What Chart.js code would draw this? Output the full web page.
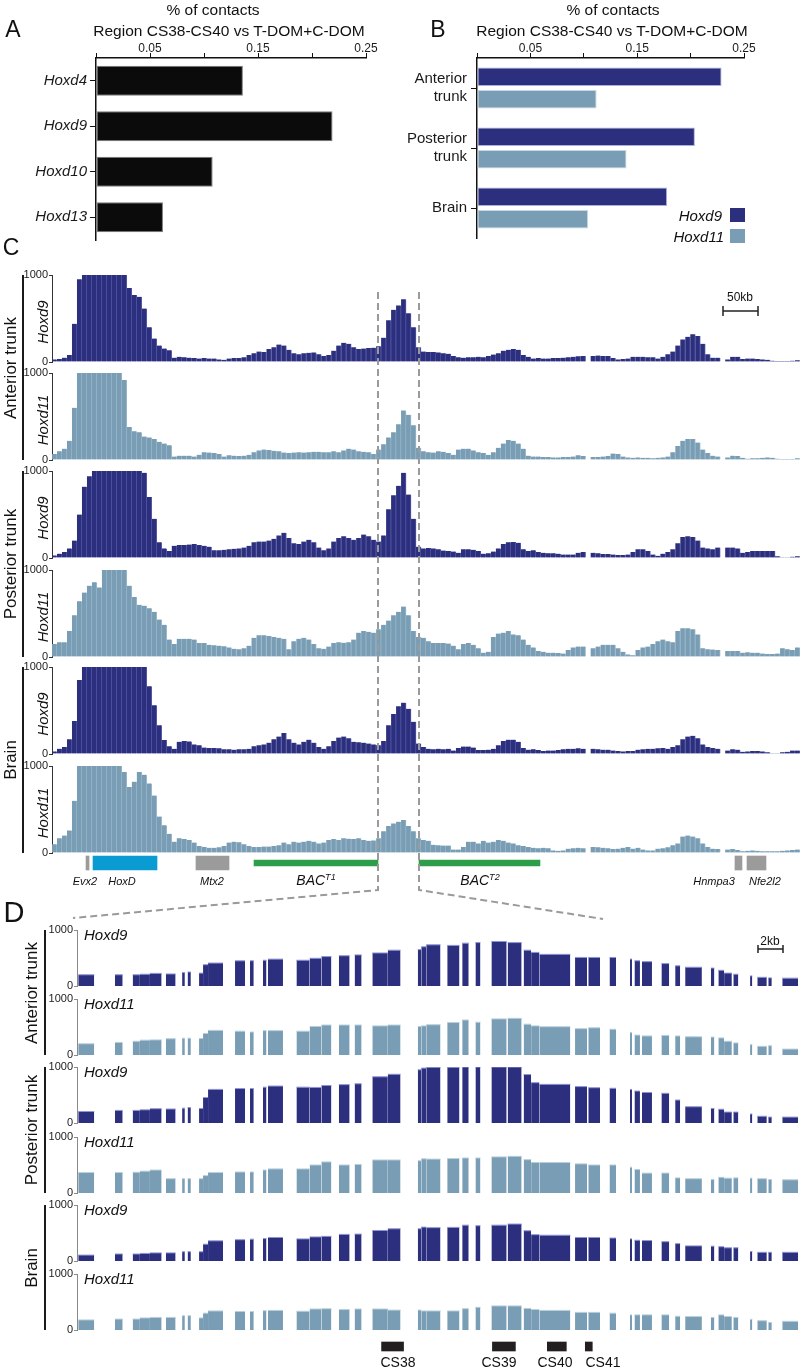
<!DOCTYPE html>
<html>
<head>
<meta charset="utf-8">
<title>Hoxd 4C contacts</title>
<script src="https://cdn.jsdelivr.net/npm/chart.js@4.4.1/dist/chart.umd.min.js"></script>
<style>
  body { margin: 0; background: #fff; }
  #fig { position: relative; width: 802px; height: 1372px; overflow: hidden; font-family: 'Liberation Sans', Arial, sans-serif; color: #1a1a1a; }
  #fig canvas { position: absolute; }
  .t { position: absolute; white-space: nowrap; line-height: 1; z-index: 3; color: #111; }
  .t sup { font-size: 65%; vertical-align: 0.6em; line-height: 0; }
  .vbar { position: absolute; width: 2px; background: #1a1a1a; }
  .key { position: absolute; width: 15px; height: 14px; }
  #over { position: absolute; left: 0; top: 0; z-index: 5; pointer-events: none; }
</style>
</head>
<body>
<div id="fig">
<svg id="over" width="802" height="1372">
  <g stroke="#9a9a9a" stroke-width="2" stroke-dasharray="7 4" fill="none">
    <polyline points="378,292 378,890 73,918"/>
    <polyline points="419,292 419,890 603,919"/>
  </g>
  <g stroke="#222" stroke-width="1.5">
    <line x1="723" y1="311" x2="758" y2="311"/><line x1="723" y1="306" x2="723" y2="316"/><line x1="758" y1="306" x2="758" y2="316"/>
    <line x1="758" y1="949" x2="783" y2="949"/><line x1="758" y1="945" x2="758" y2="953"/><line x1="783" y1="945" x2="783" y2="953"/>
  </g>
</svg>
</div>
<script>
// ---------- data ----------
// A: % of contacts of region CS38-CS40 vs T-DOM+C-DOM
const genesA = ['Hoxd4', 'Hoxd9', 'Hoxd10', 'Hoxd13'];
const contactsA = [0.136, 0.219, 0.108, 0.062];

// B: same, per tissue
const tissuesB = [['Anterior', 'trunk'], ['Posterior', 'trunk'], 'Brain'];
const hoxd9B = [0.229, 0.204, 0.178];
const hoxd11B = [0.112, 0.140, 0.104];
const labelledTicks = [0.05, 0.15, 0.25];

// C: 4C signal, 150 bins (~7 kb each), capped at 1000, null = no fragment
const cAntHoxd9 = [30,35,50,80,440,950,1000,1000,1000,1000, 1000,1000,1000,1000,1000,850,770,750,615,400,
  270,190,155,135,50,60,55,50,45,40, 45,40,40,30,25,40,45,45,55,80, 100,120,115,150,170,200,190,140,100,90,
  100,105,110,90,70,80,130,190,220,210, 170,150,155,160,165,180,280,480,600,650, 720,560,400,170,120,115,115,110,100,95,
  70,55,50,55,55,60,55,70,85,100, 130,140,150,140,80,60,40,45,40,40, 45,45,50,55,60,65,70,null,70,75,
  70,70,45,30,35,40,60,60,60,55, 55,40,60,90,120,190,260,290,320,300, 210,90,50,50,null,30,60,60,35,40,
  40,35,30,25,15,12,12,12,15,20];
const cAntHoxd11 = [70,100,130,220,600,1000,1000,1000,1000,1000, 1000,1000,1000,1000,920,380,330,320,270,260,
  240,210,190,170,40,50,50,50,40,60, 90,85,80,70,40,55,50,45,50,60, 90,110,120,115,105,100,85,80,85,90,
  85,90,95,95,90,90,100,90,110,130, 120,100,95,90,70,120,180,260,320,410, 570,520,400,140,100,90,85,100,95,80,
  60,120,130,130,110,90,80,60,90,140, 190,230,220,190,130,50,40,40,35,35, 30,30,35,35,40,55,45,null,35,35,
  40,45,75,70,40,30,25,30,25,25, 20,25,30,40,90,160,220,240,240,200, 120,80,50,40,null,30,50,45,25,15,
  20,20,25,30,25,15,12,12,12,20];
const cPostHoxd9 = [30,50,70,110,200,500,820,940,1000,1000, 1000,1000,1000,1000,1000,1000,1000,1000,980,700,
  450,180,110,80,140,150,150,155,160,150, 140,130,90,90,95,100,105,110,120,140, 180,190,190,200,220,260,290,230,170,160,
  190,210,180,120,90,110,190,230,250,230, 210,230,270,250,210,190,260,560,720,830, 980,730,450,130,110,115,110,100,85,80,
  75,60,100,100,95,80,50,55,75,110, 160,180,185,175,100,80,90,70,60,55, 55,50,40,40,40,60,70,null,60,55,
  45,45,40,35,35,40,70,100,100,80, 40,25,50,70,100,170,240,250,240,200, 120,110,100,120,null,120,120,110,60,70,
  80,80,80,80,80,20,10,8,15,20];
const cPostHoxd11 = [150,170,170,300,480,640,740,820,860,800, 1000,1000,1000,1000,1000,820,690,600,590,560,
  520,430,370,200,150,210,210,210,200,160, 160,140,135,130,125,110,95,90,100,130, 220,250,250,240,230,220,210,90,180,210,
  220,200,150,100,95,120,160,170,165,170, 200,280,300,290,280,320,370,420,480,520, 580,480,300,230,220,180,160,160,160,155,
  130,90,150,160,140,100,50,60,230,270, 280,300,260,250,200,140,110,70,60,50, 50,45,40,80,110,120,120,null,100,120,
  140,140,140,100,60,30,20,80,110,120, 150,180,200,180,170,300,330,330,320,260, 100,90,85,80,null,70,70,70,50,55,
  50,50,40,35,35,40,100,90,80,110];
const cBrainHoxd9 = [30,60,80,170,380,850,1000,1000,1000,1000, 1000,1000,1000,1000,1000,1000,1000,1000,1000,780,
  560,330,160,90,60,140,150,145,110,100, 75,70,70,65,55,55,50,55,55,60, 90,100,110,130,170,200,240,170,130,110,
  140,165,130,80,60,90,150,190,200,180, 140,135,130,120,110,100,150,330,460,550, 590,520,370,120,80,60,55,60,55,60,
  40,70,85,85,75,45,45,50,60,100, 150,165,165,140,70,50,55,45,35,40, 40,45,55,60,60,65,60,null,60,55,
  50,50,40,35,30,35,35,50,55,60, 60,65,70,60,80,100,170,200,210,180, 110,80,70,60,null,40,55,50,25,30,
  35,35,30,20,10,10,20,25,40,40];
const cBrainHoxd11 = [100,170,200,260,600,1000,1000,1000,1000,1000, 1000,1000,1000,1000,930,760,820,930,900,800,
  660,420,320,220,130,170,160,150,120,80, 70,60,60,65,80,120,130,125,100,80, 70,70,75,75,80,90,120,100,130,120,
  130,140,130,110,120,150,160,150,170,165, 160,170,150,140,145,170,250,310,340,360, 380,310,250,170,150,140,95,90,85,85,
  40,40,70,130,130,110,140,120,130,150, 140,120,110,90,80,70,60,55,60,55, 30,25,30,50,55,60,55,null,70,65,
  60,55,45,50,60,70,50,60,40,30, 30,50,55,65,90,110,190,200,190,170, 110,70,50,45,null,40,45,35,20,25,
  30,25,20,20,20,20,25,30,35,40];

// genes under panel C, kb from left edge of the window
const geneNames = ['Evx2', 'HoxD', 'Mtx2', 'BACT1', 'BACT2', 'Hnmpa3', 'Nfe2l2'];
const geneStart = [48.6, 58.6, 205.7, 288.6, 524.3, 975.7, 992.9];
const geneEnd = [52.9, 150, 252.9, 465.7, 697.1, 985.7, 1020];

// D: restriction fragments in the zoomed region (kb) and their signal
const fragStart = [0.10,3.04,4.46,5.04,5.84,7.12,8.42,8.86,9.78,10.10, 10.50,12.66,13.86,14.90,15.30,17.58,18.64,19.58,20.98,22.24,
  23.66,24.90,27.30,27.58,27.98,29.66,30.86,31.92,33.20,34.50, 35.78,36.38,37.04,39.90,40.96,42.66,44.30,44.66,45.26,46.82,
  47.92,48.72,50.78,51.38,51.84,52.58,53.92,54.50,55.38,56.50];
const fragEnd = [1.38,3.66,5.04,5.84,6.78,7.90,8.64,9.12,10.10,10.50, 11.70,13.46,14.16,15.18,16.50,18.64,19.58,20.38,21.84,22.80,
  24.90,25.92,27.58,27.98,29.12,30.64,31.38,32.32,34.42,35.62, 36.38,37.04,39.52,40.86,41.90,43.18,44.46,45.10,46.06,47.44,
  48.32,50.06,51.06,51.84,52.46,52.98,54.10,55.26,55.66,57.76];
const dAntHoxd9 = [200,200,200,210,225,215,240,250,230,380, 410,450,450,460,480,460,495,525,540,555,
  590,640,650,700,735,725,765,775,795,775, 640,600,565,510,510,510,480,450,435,400, 360,335,320,280,230,210,180,155,145,140];
const dAntHoxd11 = [200,225,245,265,270,290,300,300,295,385, 440,425,410,435,435,425,510,535,535,535,
  520,535,510,520,540,580,625,585,645,655, 550,520,505,470,485,460,400,355,340,350, 340,325,320,305,245,215,185,155,165,105];
const dPostHoxd9 = [205,225,225,235,255,250,265,275,260,455, 600,615,615,640,660,640,635,670,685,700,
  825,870,950,980,995,995,1000,1000,1000,1000, 865,720,690,650,630,620,600,570,545,530, 410,290,260,245,195,195,160,120,105,105];
const dPostHoxd11 = [365,365,370,390,410,255,255,255,255,310, 365,375,375,410,430,430,500,555,500,510,
  590,590,575,610,605,615,625,625,645,655, 595,545,545,520,500,500,460,420,355,355, 270,255,240,280,265,270,265,255,240,235];
const dBrainHoxd9 = [105,125,125,135,145,145,165,165,165,300, 360,380,390,400,420,395,430,440,475,480,
  545,575,575,605,595,600,640,630,640,660, 540,470,460,420,420,410,395,370,365,345, 310,270,265,255,235,235,170,155,155,155];
const dBrainHoxd11 = [180,195,195,215,225,225,255,255,215,300, 340,330,330,345,350,335,375,380,365,375,
  375,355,355,340,340,340,380,405,430,430, 385,365,350,315,315,300,270,270,270,270, 245,240,225,270,240,225,190,165,135,155];

// conserved sequences under panel D (kb)
const csNames = ['CS38', 'CS39', 'CS40', 'CS41'];
const csStart = [24.4, 33.28, 37.68, 40.72];
const csEnd = [26.16, 35.12, 39.2, 41.28];

// ---------- style / layout ----------
const NAVY = '#2c2f7e', STEEL = '#789db4';
const NAVY_EDGE = '#555aa6', STEEL_EDGE = '#9cb9ca';
const geneStyle = {
  Evx2: ['#9b9b9b', 14], HoxD: ['#0a9bd2', 14], Mtx2: ['#9b9b9b', 14],
  BACT1: ['#2f9e4a', 6], BACT2: ['#2f9e4a', 6], Hnmpa3: ['#9b9b9b', 14], Nfe2l2: ['#9b9b9b', 14]
};
const C_KB = 1068.6, D_KB = 57.76;

Chart.defaults.font.family = "'Liberation Sans', Arial, sans-serif";
Chart.defaults.color = '#1a1a1a';
Chart.defaults.animation = false;
Chart.defaults.responsive = false;
Chart.defaults.plugins.legend.display = false;
Chart.defaults.plugins.tooltip.enabled = false;

const fig = document.getElementById('fig');

function addCanvas(x, y, w, h) {
  const c = document.createElement('canvas');
  c.width = w; c.height = h;
  c.style.left = x + 'px'; c.style.top = y + 'px';
  fig.appendChild(c);
  return c;
}

function txt(s, x, y, o = {}) {
  const d = document.createElement('div');
  d.className = 't';
  d.innerHTML = s;
  d.style.left = x + 'px'; d.style.top = y + 'px';
  d.style.fontSize = (o.size || 14) + 'px';
  if (o.italic) d.style.fontStyle = 'italic';
  let tf = o.align === 'right' ? 'translate(-100%,-50%)' : o.align === 'left' ? 'translate(0,-50%)' : 'translate(-50%,-50%)';
  if (o.rot) tf += ' rotate(-90deg)';
  d.style.transform = tf;
  fig.appendChild(d);
}

function vbar(x, y1, y2) {
  const d = document.createElement('div');
  d.className = 'vbar';
  d.style.left = x + 'px'; d.style.top = y1 + 'px'; d.style.height = (y2 - y1) + 'px';
  fig.appendChild(d);
}

// ---------- A and B ----------
function topAxis() {
  return {
    position: 'top', min: 0, max: 0.25,
    afterFit: s => { s.height = 58; },
    ticks: {
      stepSize: 0.05, autoSkip: false, maxRotation: 0, padding: -3, font: { size: 12 },
      callback: v => labelledTicks.some(t => Math.abs(t - v) < 1e-6) ? v.toFixed(2) : ''
    },
    grid: { drawOnChartArea: false, tickLength: 5, color: '#111' },
    border: { color: '#111', width: 1.5 }
  };
}

new Chart(addCanvas(0, 0, 400, 260), {
  type: 'bar',
  data: {
    labels: genesA,
    datasets: [{ data: contactsA, backgroundColor: '#0b0b0b', borderColor: '#7a7a7a', borderWidth: 1, borderSkipped: false,
      barPercentage: 0.66, categoryPercentage: 1 }]
  },
  options: {
    indexAxis: 'y',
    layout: { padding: { top: 0, left: 0, right: 34, bottom: 20 } },
    scales: {
      x: topAxis(),
      y: {
        afterFit: s => { s.width = 96; },
        ticks: { font: { size: 15, style: 'italic' }, padding: 3 },
        grid: { offset: false, drawOnChartArea: false, tickLength: 6, color: '#111' },
        border: { color: '#111', width: 1.5 }
      }
    }
  }
});

new Chart(addCanvas(400, 0, 402, 260), {
  type: 'bar',
  data: {
    labels: tissuesB,
    datasets: [
      { label: 'Hoxd9', data: hoxd9B, backgroundColor: NAVY, borderColor: '#a9b0dc', borderWidth: 1, borderSkipped: false, barPercentage: 0.83, categoryPercentage: 0.75 },
      { label: 'Hoxd11', data: hoxd11B, backgroundColor: STEEL, borderColor: '#c7d8e2', borderWidth: 1, borderSkipped: false, barPercentage: 0.83, categoryPercentage: 0.75 }
    ]
  },
  options: {
    indexAxis: 'y',
    layout: { padding: { top: 0, left: 0, right: 58, bottom: 10 } },
    scales: {
      x: topAxis(),
      y: {
        afterFit: s => { s.width = 77; },
        ticks: { font: { size: 15 }, padding: 4 },
        grid: { offset: false, drawOnChartArea: false, tickLength: 6, color: '#111' },
        border: { color: '#111', width: 1.5 }
      }
    }
  }
});

// ---------- C ----------
function signalAxis(color, width) {
  return {
    min: 0, max: 1000,
    afterFit: s => { s.width = width; },
    ticks: { stepSize: 1000, padding: 1, font: { size: 11 }, color: '#222', callback: v => String(v) },
    grid: { drawOnChartArea: false, tickLength: 3, color: color },
    border: { color: color, width: 1 }
  };
}

const cTop = [275, 373, 471, 570, 667, 766], cH = 87;
const cTracks = [[cAntHoxd9, NAVY, NAVY_EDGE], [cAntHoxd11, STEEL, STEEL_EDGE], [cPostHoxd9, NAVY, NAVY_EDGE],
  [cPostHoxd11, STEEL, STEEL_EDGE], [cBrainHoxd9, NAVY, NAVY_EDGE], [cBrainHoxd11, STEEL, STEEL_EDGE]];

cTracks.forEach(([vals, col, edge], k) => {
  new Chart(addCanvas(0, cTop[k] - 8, 800, cH + 16), {
    type: 'bar',
    data: {
      labels: vals.map((_, i) => i),
      datasets: [{ data: vals, backgroundColor: col, borderColor: edge, borderWidth: { right: 1 }, borderSkipped: 'start',
        barPercentage: 1, categoryPercentage: 1 }]
    },
    options: {
      layout: { padding: { top: 8, bottom: 8, left: 0, right: 0 } },
      scales: { x: { display: false }, y: signalAxis('#333', 52) }
    }
  });
  txt(k % 2 ? 'Hoxd11' : 'Hoxd9', 42, cTop[k] + cH / 2 + 3, { size: 15, italic: true, rot: true });
});

new Chart(addCanvas(0, 852, 800, 22), {
  type: 'bar',
  data: {
    labels: [''],
    datasets: geneNames.map((g, i) => ({
      data: [[geneStart[i], geneEnd[i]]], backgroundColor: geneStyle[g][0], barThickness: geneStyle[g][1], grouped: false
    }))
  },
  options: {
    indexAxis: 'y',
    layout: { padding: { left: 52, right: 0, top: 0, bottom: 0 } },
    scales: { x: { type: 'linear', min: 0, max: C_KB, display: false }, y: { display: false } }
  }
});

// ---------- D ----------
const dTop = [930, 999, 1067, 1137, 1205, 1274], dH = 56;
const dTracks = [[dAntHoxd9, NAVY, '#8f95d6'], [dAntHoxd11, STEEL, '#b9d0de'], [dPostHoxd9, NAVY, '#8f95d6'],
  [dPostHoxd11, STEEL, '#b9d0de'], [dBrainHoxd9, NAVY, '#8f95d6'], [dBrainHoxd11, STEEL, '#b9d0de']];

dTracks.forEach(([vals, col, edge], k) => {
  const pts = [];
  fragStart.forEach((s, i) => {
    pts.push({ x: s, y: vals[i] }, { x: fragEnd[i], y: vals[i] }, { x: fragEnd[i], y: null });
  });
  new Chart(addCanvas(0, dTop[k] - 8, 800, dH + 16), {
    type: 'line',
    data: { datasets: [{ data: pts, fill: 'origin', backgroundColor: col, borderColor: edge, borderWidth: 1, pointRadius: 0, tension: 0, spanGaps: false }] },
    options: {
      layout: { padding: { top: 8, bottom: 8, left: 0, right: 2 } },
      scales: { x: { type: 'linear', min: 0, max: D_KB, display: false }, y: signalAxis('#8a8a8a', 77) }
    }
  });
  txt(k % 2 ? 'Hoxd11' : 'Hoxd9', 84, dTop[k] + 4, { size: 15, italic: true, align: 'left' });
});

new Chart(addCanvas(0, 1338, 800, 17), {
  type: 'bar',
  data: {
    labels: [''],
    datasets: csNames.map((n, i) => ({ data: [[csStart[i], csEnd[i]]], backgroundColor: '#231f20', barThickness: 9, grouped: false }))
  },
  options: {
    indexAxis: 'y',
    layout: { padding: { left: 77, right: 2, top: 0, bottom: 0 } },
    scales: { x: { type: 'linear', min: 0, max: D_KB, display: false }, y: { display: false } }
  }
});

// ---------- text ----------
txt('A', 13, 29, { size: 23 });
txt('B', 438, 29, { size: 23 });
txt('C', 11, 247, { size: 23 });
txt('D', 14, 912, { size: 29 });

txt('% of contacts', 213, 10, { size: 15.5 });
txt('Region CS38-CS40 vs T-DOM+C-DOM', 229, 31, { size: 15.5 });
txt('% of contacts', 613, 10, { size: 15.5 });
txt('Region CS38-CS40 vs T-DOM+C-DOM', 612, 31, { size: 15.5 });

txt('Hoxd9', 722, 215, { size: 15, italic: true, align: 'right' });
txt('Hoxd11', 724, 236, { size: 15, italic: true, align: 'right' });
[[NAVY, 208], [STEEL, 229]].forEach(([c, y]) => {
  const d = document.createElement('div');
  d.className = 'key'; d.style.background = c; d.style.left = '730px'; d.style.top = y + 'px';
  fig.appendChild(d);
});

// tissue groups
[['Anterior trunk', 275, 460], ['Posterior trunk', 471, 657], ['Brain', 667, 853]].forEach(([s, a, b]) => {
  vbar(22, a, b);
  txt(s, 10, (a + b) / 2, { size: 17, rot: true });
});
[['Anterior trunk', 930, 1055], ['Posterior trunk', 1067, 1193], ['Brain', 1205, 1330]].forEach(([s, a, b]) => {
  vbar(44, a, b);
  txt(s, 31, (a + b) / 2, { size: 17, rot: true });
});

txt('50kb', 740, 297, { size: 12 });
txt('2kb', 770, 941, { size: 12 });

txt('Evx2', 85, 881, { size: 11, italic: true });
txt('HoxD', 122, 881, { size: 11, italic: true });
txt('Mtx2', 212, 881, { size: 11, italic: true });
txt('BAC<sup>T1</sup>', 316, 880, { size: 14, italic: true });
txt('BAC<sup>T2</sup>', 480, 880, { size: 14, italic: true });
txt('Hnmpa3', 714, 881, { size: 11, italic: true });
txt('Nfe2l2', 765, 881, { size: 11, italic: true });

[398, 499, 555, 603].forEach((x, i) => txt(csNames[i], x, 1362, { size: 14 }));
</script>
</body>
</html>
